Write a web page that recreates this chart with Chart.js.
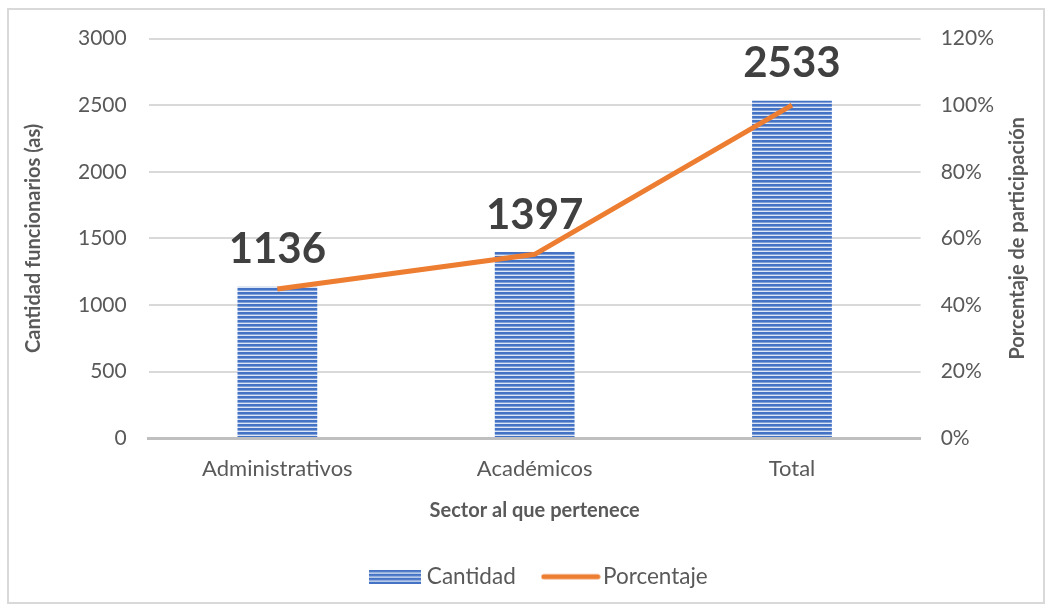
<!DOCTYPE html>
<html>
<head>
<meta charset="utf-8">
<script src="https://cdn.jsdelivr.net/npm/chart.js@4"></script>
<style>
  body { margin: 0; background: #fff; overflow: hidden; }
  #wrap { position: absolute; left: 0; top: 0; width: 1054px; height: 610px; overflow: hidden; }
  #frame { position: absolute; left: 7px; top: 8px; width: 1038px; height: 596px; border: 2px solid #D9D9D9; box-sizing: border-box; }
  #grafico { position: absolute; left: 0; top: 4px; }
</style>
</head>
<body>
<div id="wrap">
  <div id="frame"></div>
  <canvas id="grafico" width="1054" height="610"></canvas>
</div>
<script>
const sectores = ['Administrativos', 'Académicos', 'Total'];
const cantidad = [1136, 1397, 2533];
const porcentaje = [0.448, 0.552, 1.0];

const AZUL = '#4472C4';
const NARANJA = '#ED7D31';
const FUENTE = 'Lato';
const TITULO_DER = 'Porcentaje de participación';

// franjas horizontales del relleno de las barras
function rayado() {
    const c = document.createElement('canvas');
    c.width = 4; c.height = 4;
    const g = c.getContext('2d');
    g.fillStyle = '#DCE6F5';
    g.fillRect(0, 0, 4, 4);
    g.fillStyle = AZUL;
    g.fillRect(0, 0, 4, 2.6);
    return document.getElementById('grafico').getContext('2d').createPattern(c, 'repeat');
}
const patron = rayado();

function iconoBarra() {
    const c = document.createElement('canvas');
    c.width = 52; c.height = 14;
    const g = c.getContext('2d');
    g.fillStyle = patron;
    g.fillRect(0, 0, 52, 14);
    return c;
}
function iconoLinea() {
    const c = document.createElement('canvas');
    c.width = 60; c.height = 14;
    const g = c.getContext('2d');
    g.strokeStyle = NARANJA;
    g.lineWidth = 5;
    g.lineCap = 'round';
    g.beginPath();
    g.moveTo(3, 7); g.lineTo(57, 7);
    g.stroke();
    return c;
}

const etiquetas = {
    id: 'etiquetas',
    // la leyenda va centrada bajo el área de trazado, no bajo el lienzo
    afterLayout(chart) {
        const lg = chart.legend;
        const dx = (chart.chartArea.left + chart.chartArea.right) / 2 - (lg.left + lg.right) / 2 + 6;
        lg.left += dx;
        lg.right += dx;
    },
    afterDatasetsDraw(chart) {
        const ctx = chart.ctx;
        const meta = chart.getDatasetMeta(0);
        ctx.save();
        ctx.font = 'bold 42px ' + FUENTE;
        ctx.fillStyle = '#404040';
        ctx.textAlign = 'center';
        ctx.textBaseline = 'bottom';
        meta.data.forEach((bar, i) => {
            ctx.fillText(cantidad[i], bar.x, bar.y - 16);
        });
        ctx.restore();
    },
    // título del eje derecho, leído de abajo hacia arriba
    afterDraw(chart) {
        const ctx = chart.ctx;
        const s = chart.scales.y1;
        ctx.save();
        ctx.translate(s.right - 34, (s.top + s.bottom) / 2);
        ctx.rotate(-Math.PI / 2);
        ctx.font = 'bold 20px ' + FUENTE;
        ctx.fillStyle = '#595959';
        ctx.textAlign = 'center';
        ctx.textBaseline = 'middle';
        ctx.fillText(TITULO_DER, 0, 0);
        ctx.restore();
    }
};

Chart.defaults.font.family = FUENTE;
Chart.defaults.color = '#595959';

new Chart(document.getElementById('grafico'), {
    type: 'bar',
    data: {
        labels: sectores,
        datasets: [
            {
                label: 'Cantidad',
                data: cantidad,
                backgroundColor: patron,
                barPercentage: 0.31,
                categoryPercentage: 1,
                yAxisID: 'y',
                order: 1
            },
            {
                type: 'line',
                label: 'Porcentaje',
                data: porcentaje,
                borderColor: NARANJA,
                borderWidth: 5,
                pointRadius: 0,
                tension: 0,
                yAxisID: 'y1',
                order: 0
            }
        ]
    },
    plugins: [etiquetas],
    options: {
        responsive: false,
        animation: false,
        layout: { padding: { left: 18, right: 2, top: 34, bottom: 16 } },
        scales: {
            x: {
                grid: { display: false },
                border: { color: '#BFBFBF', width: 3 },
                ticks: { font: { size: 22 }, padding: 10 },
                title: {
                    display: true,
                    text: 'Sector al que pertenece',
                    font: { size: 20, weight: 'bold' },
                    padding: { top: 6, bottom: 9 }
                }
            },
            y: {
                min: 0,
                max: 3000,
                ticks: { stepSize: 500, font: { size: 21 }, padding: 22, callback: v => String(v) },
                grid: { color: '#D9D9D9', lineWidth: 2, drawTicks: false },
                border: { display: false },
                title: {
                    display: true,
                    text: 'Cantidad funcionarios (as)',
                    font: { size: 20, weight: 'bold' },
                    padding: { bottom: 10 }
                }
            },
            y1: {
                position: 'right',
                min: 0,
                max: 1.2,
                ticks: {
                    stepSize: 0.2,
                    font: { size: 21 },
                    padding: 20,
                    callback: v => Math.round(v * 100) + '%'
                },
                grid: { display: false, drawTicks: false },
                border: { display: false },
                title: {
                    display: true,
                    text: TITULO_DER,
                    color: 'rgba(0,0,0,0)',
                    font: { size: 20, weight: 'bold' },
                    padding: { top: 10 }
                }
            }
        },
        plugins: {
            tooltip: { enabled: false },
            legend: {
                position: 'bottom',
                labels: {
                    usePointStyle: true,
                    pointStyleWidth: 42,
                    boxHeight: 14,
                    padding: 34,
                    font: { size: 22.5 },
                    generateLabels: () => [
                        { text: 'Cantidad', pointStyle: iconoBarra(), fillStyle: AZUL, strokeStyle: AZUL, lineWidth: 0, datasetIndex: 0, fontColor: '#595959' },
                        { text: 'Porcentaje', pointStyle: iconoLinea(), fillStyle: NARANJA, strokeStyle: NARANJA, lineWidth: 0, datasetIndex: 1, fontColor: '#595959' }
                    ]
                }
            }
        }
    }
});
</script>
</body>
</html>
